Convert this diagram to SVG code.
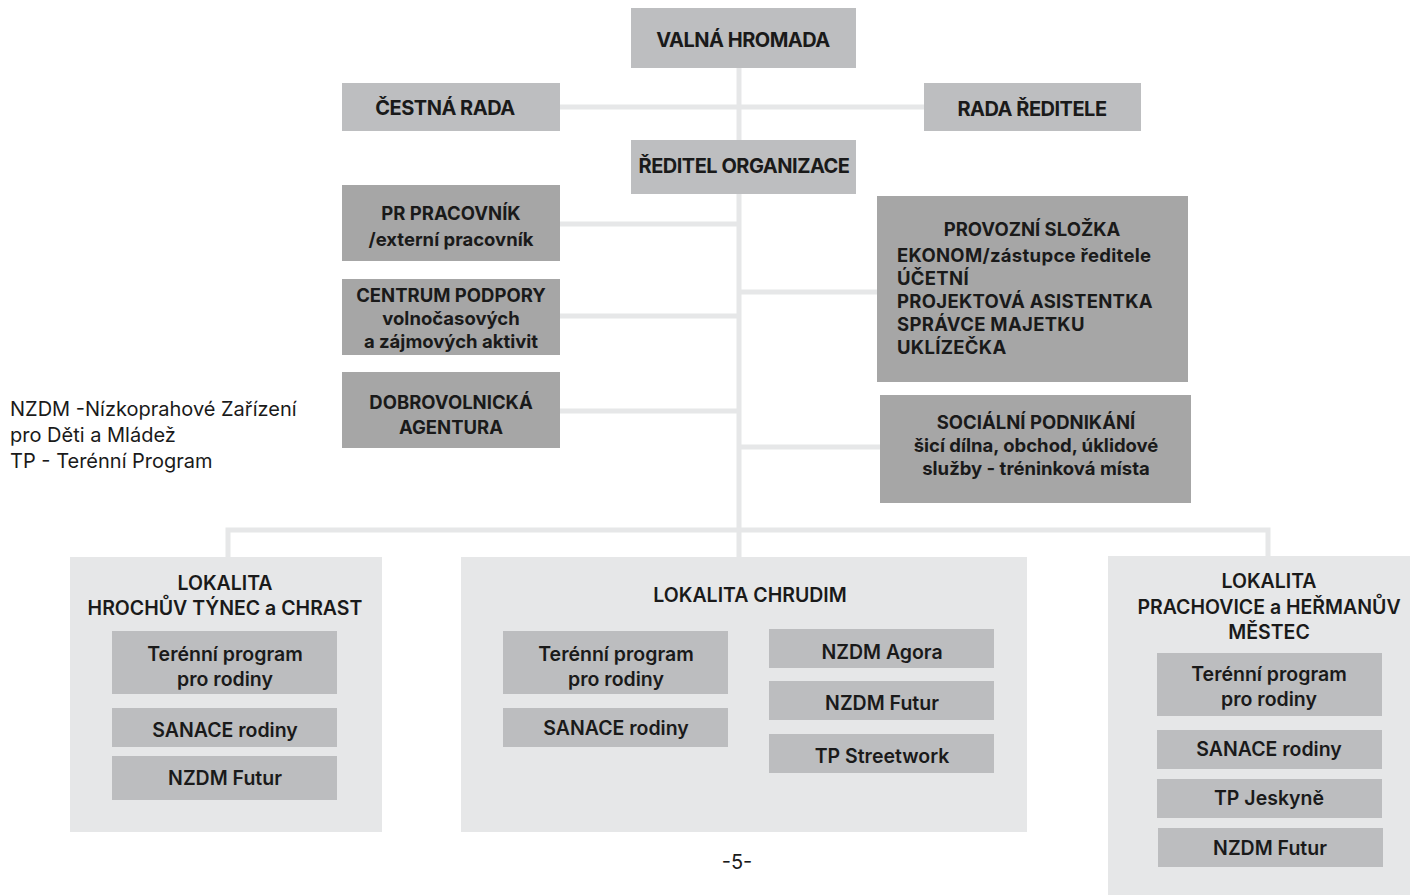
<svg xmlns="http://www.w3.org/2000/svg" width="1410" height="895" viewBox="0 0 1410 895">
<style>
.top{fill:#bdbec0}
.dark{fill:#a6a6a6}
.loc{fill:#e6e7e8}
.in{fill:#bcbdbf}
.c{stroke:#e6e7e8;stroke-width:5;fill:none}
text{font-family:Inter,"Liberation Sans",sans-serif;fill:#1a1a1a}
.t{font-size:20px;font-weight:700;letter-spacing:-0.5px;text-anchor:middle}
.m{font-size:18.5px;font-weight:700;text-anchor:middle}
.tl{font-size:18.5px;font-weight:700;letter-spacing:0.3px}
.b{font-size:19.5px;font-weight:600;text-anchor:middle}
.leg{font-size:20px;font-weight:400}
</style>
<g id="connectors">
<line class="c" x1="739" y1="68" x2="739" y2="140"/>
<line class="c" x1="560" y1="107" x2="924" y2="107"/>
<line class="c" x1="739" y1="192" x2="739" y2="557"/>
<line class="c" x1="560" y1="224" x2="739" y2="224"/>
<line class="c" x1="560" y1="316" x2="739" y2="316"/>
<line class="c" x1="560" y1="411" x2="739" y2="411"/>
<line class="c" x1="739" y1="292" x2="877" y2="292"/>
<line class="c" x1="739" y1="447" x2="880" y2="447"/>
<polyline class="c" points="228,557 228,530 1268,530 1268,557"/>
</g>
<g id="valna-hromada"><rect class="top" x="631" y="8" width="225" height="60"/><text class="t" x="743" y="47">VALNÁ HROMADA</text></g>
<g id="cestna-rada"><rect class="top" x="342" y="83" width="218" height="48"/><text class="t" x="445" y="115">ČESTNÁ RADA</text></g>
<g id="rada-reditele"><rect class="top" x="924" y="83" width="217" height="48"/><text class="t" x="1032" y="116">RADA ŘEDITELE</text></g>
<g id="reditel"><rect class="top" x="631" y="140" width="225" height="54"/><text class="t" x="744" y="173">ŘEDITEL ORGANIZACE</text></g>
<g id="pr"><rect class="dark" x="342" y="185" width="218" height="76"/><text class="m" x="451" y="220">PR PRACOVNÍK</text><text class="m" x="451" y="246">/externí pracovník</text></g>
<g id="centrum"><rect class="dark" x="342" y="279" width="218" height="76"/><text class="m" x="451" y="302">CENTRUM PODPORY</text><text class="m" x="451" y="325">volnočasových</text><text class="m" x="451" y="348">a zájmových aktivit</text></g>
<g id="dobrovolnicka"><rect class="dark" x="342" y="372" width="218" height="76"/><text class="m" x="451" y="409">DOBROVOLNICKÁ</text><text class="m" x="451" y="434">AGENTURA</text></g>
<g id="provozni"><rect class="dark" x="877" y="196" width="311" height="186"/><text class="m" x="1032" y="236">PROVOZNÍ SLOŽKA</text><text class="tl" x="897" y="262">EKONOM/zástupce ředitele</text><text class="tl" x="897" y="285">ÚČETNÍ</text><text class="tl" x="897" y="308">PROJEKTOVÁ ASISTENTKA</text><text class="tl" x="897" y="331">SPRÁVCE MAJETKU</text><text class="tl" x="897" y="354">UKLÍZEČKA</text></g>
<g id="socialni"><rect class="dark" x="880" y="395" width="311" height="108"/><text class="m" x="1036" y="429">SOCIÁLNÍ PODNIKÁNÍ</text><text class="m" x="1036" y="452">šicí dílna, obchod, úklidové</text><text class="m" x="1036" y="475">služby - tréninková místa</text></g>
<g id="legend"><text class="leg" x="10" y="416">NZDM -Nízkoprahové Zařízení</text><text class="leg" x="10" y="442">pro Děti a Mládež</text><text class="leg" x="10" y="468">TP - Terénní Program</text></g>
<g id="lokalita-hrochuv"><rect class="loc" x="70" y="557" width="312" height="275"/><text class="b" x="225" y="590">LOKALITA</text><text class="b" x="225" y="615">HROCHŮV TÝNEC a CHRAST</text>
<rect class="in" x="112" y="631" width="225" height="63"/><text class="b" x="225" y="661">Terénní program</text><text class="b" x="225" y="686">pro rodiny</text>
<rect class="in" x="112" y="708" width="225" height="39"/><text class="b" x="225" y="737">SANACE rodiny</text>
<rect class="in" x="112" y="756" width="225" height="44"/><text class="b" x="225" y="785">NZDM Futur</text></g>
<g id="lokalita-chrudim"><rect class="loc" x="461" y="557" width="566" height="275"/><text class="b" x="750" y="602">LOKALITA CHRUDIM</text>
<rect class="in" x="503" y="631" width="225" height="63"/><text class="b" x="616" y="661">Terénní program</text><text class="b" x="616" y="686">pro rodiny</text>
<rect class="in" x="503" y="708" width="225" height="39"/><text class="b" x="616" y="735">SANACE rodiny</text>
<rect class="in" x="769" y="629" width="225" height="39"/><text class="b" x="882" y="659">NZDM Agora</text>
<rect class="in" x="769" y="681" width="225" height="39"/><text class="b" x="882" y="710">NZDM Futur</text>
<rect class="in" x="769" y="734" width="225" height="39"/><text class="b" x="882" y="763">TP Streetwork</text></g>
<g id="lokalita-prachovice"><rect class="loc" x="1108" y="556" width="302" height="339"/><text class="b" x="1269" y="588">LOKALITA</text><text class="b" x="1269" y="614">PRACHOVICE a HEŘMANŮV</text><text class="b" x="1269" y="639">MĚSTEC</text>
<rect class="in" x="1157" y="653" width="225" height="63"/><text class="b" x="1269" y="681">Terénní program</text><text class="b" x="1269" y="706">pro rodiny</text>
<rect class="in" x="1157" y="730" width="225" height="39"/><text class="b" x="1269" y="756">SANACE rodiny</text>
<rect class="in" x="1157" y="779" width="225" height="39"/><text class="b" x="1269" y="805">TP Jeskyně</text>
<rect class="in" x="1158" y="828" width="225" height="39"/><text class="b" x="1270" y="855">NZDM Futur</text></g>
<text x="737" y="869" style="font-size:20px;font-weight:400;text-anchor:middle">-5-</text>
</svg>
